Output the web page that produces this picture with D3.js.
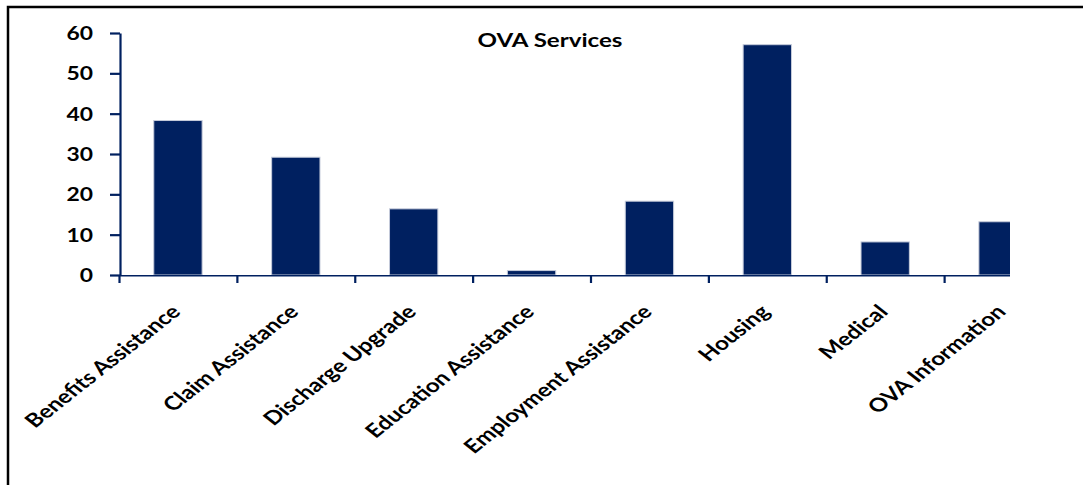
<!DOCTYPE html>
<html>
<head>
<meta charset="utf-8">
<script src="https://cdn.jsdelivr.net/npm/d3@7"></script>
<style>
  body { margin: 0; background: #fff; }
  svg { display: block; }
</style>
</head>
<body>
<svg id="chart" width="1083" height="485"></svg>
<script>
// Services provided, by category
const categories = [
  "Benefits Assistance",
  "Claim Assistance",
  "Discharge Upgrade",
  "Education Assistance",
  "Employment Assistance",
  "Housing",
  "Medical",
  "OVA Information"
];
const values = [38.3, 29.2, 16.4, 1.1, 18.3, 57.1, 8.2, 13.2];
const yTicks = [0, 10, 20, 30, 40, 50, 60];
const title = "OVA Services";

const svg = d3.select("#chart");
const navy = "#002060";
const stretch = 1.27;               // text is drawn horizontally widened
const font = "Lato, 'Open Sans', sans-serif";

// outer frame (runs past the right and bottom edges)
svg.append("rect")
  .attr("x", 8).attr("y", 7)
  .attr("width", 1300).attr("height", 700)
  .attr("fill", "none")
  .attr("stroke", "#000")
  .attr("stroke-width", 2.5);

// plot area is cut off on the right
svg.append("clipPath").attr("id", "plotClip")
  .append("rect").attr("x", 0).attr("y", 0).attr("width", 1010).attr("height", 485);

const x = d3.scaleBand()
  .domain(categories)
  .range([119, 1062])
  .paddingInner(0.59)
  .paddingOuter(0.295);

const y = d3.scaleLinear().domain([0, 60]).range([275, 33]);

// bars
svg.append("g").attr("clip-path", "url(#plotClip)")
  .selectAll("rect")
  .data(values)
  .join("rect")
  .attr("x", (d, i) => x(categories[i]))
  .attr("y", d => y(d))
  .attr("width", x.bandwidth())
  .attr("height", d => y(0) - y(d))
  .attr("fill", navy)
  .attr("stroke", "#c5cbda")
  .attr("stroke-width", 1);

// x axis: ticks sit on category boundaries
const xEdge = d3.scaleLinear().domain([0, categories.length]).range(x.range());
const xAxis = svg.append("g")
  .attr("clip-path", "url(#plotClip)")
  .attr("transform", `translate(0,${y(0)})`)
  .call(d3.axisBottom(xEdge)
    .tickValues(d3.range(categories.length))
    .tickSizeInner(8)
    .tickSizeOuter(0)
    .tickFormat(""));
xAxis.selectAll(".domain, .tick line").attr("stroke", navy).attr("stroke-width", 2.2);

// y axis
const yAxis = svg.append("g")
  .attr("transform", "translate(120,0)")
  .call(d3.axisLeft(y).tickValues(yTicks).tickSizeInner(10).tickSizeOuter(0));
yAxis.selectAll(".domain, .tick line").attr("stroke", navy).attr("stroke-width", 2.2);
yAxis.selectAll(".tick text")
  .attr("x", 0)
  .attr("dy", "0.36em")
  .attr("transform", `translate(-27,0) scale(${stretch},1)`)
  .attr("text-anchor", "end")
  .attr("fill", "#000")
  .style("font-family", font)
  .style("font-weight", "bold")
  .style("font-size", "18px");

// category labels, rotated, ending just right of each band centre
svg.append("g")
  .selectAll("text")
  .data(categories)
  .join("text")
  .attr("transform", d =>
    `translate(${x(d) + x.bandwidth() / 2 + 4},313) scale(${stretch},1) rotate(-45)`)
  .attr("text-anchor", "end")
  .attr("fill", "#000")
  .style("font-family", font)
  .style("font-weight", "bold")
  .style("font-size", "19px")
  .text(d => d);

// title
svg.append("text")
  .attr("transform", `translate(550,47) scale(${stretch},1)`)
  .attr("text-anchor", "middle")
  .attr("fill", "#000")
  .style("font-family", font)
  .style("font-weight", "bold")
  .style("font-size", "19px")
  .text(title);
</script>
</body>
</html>
